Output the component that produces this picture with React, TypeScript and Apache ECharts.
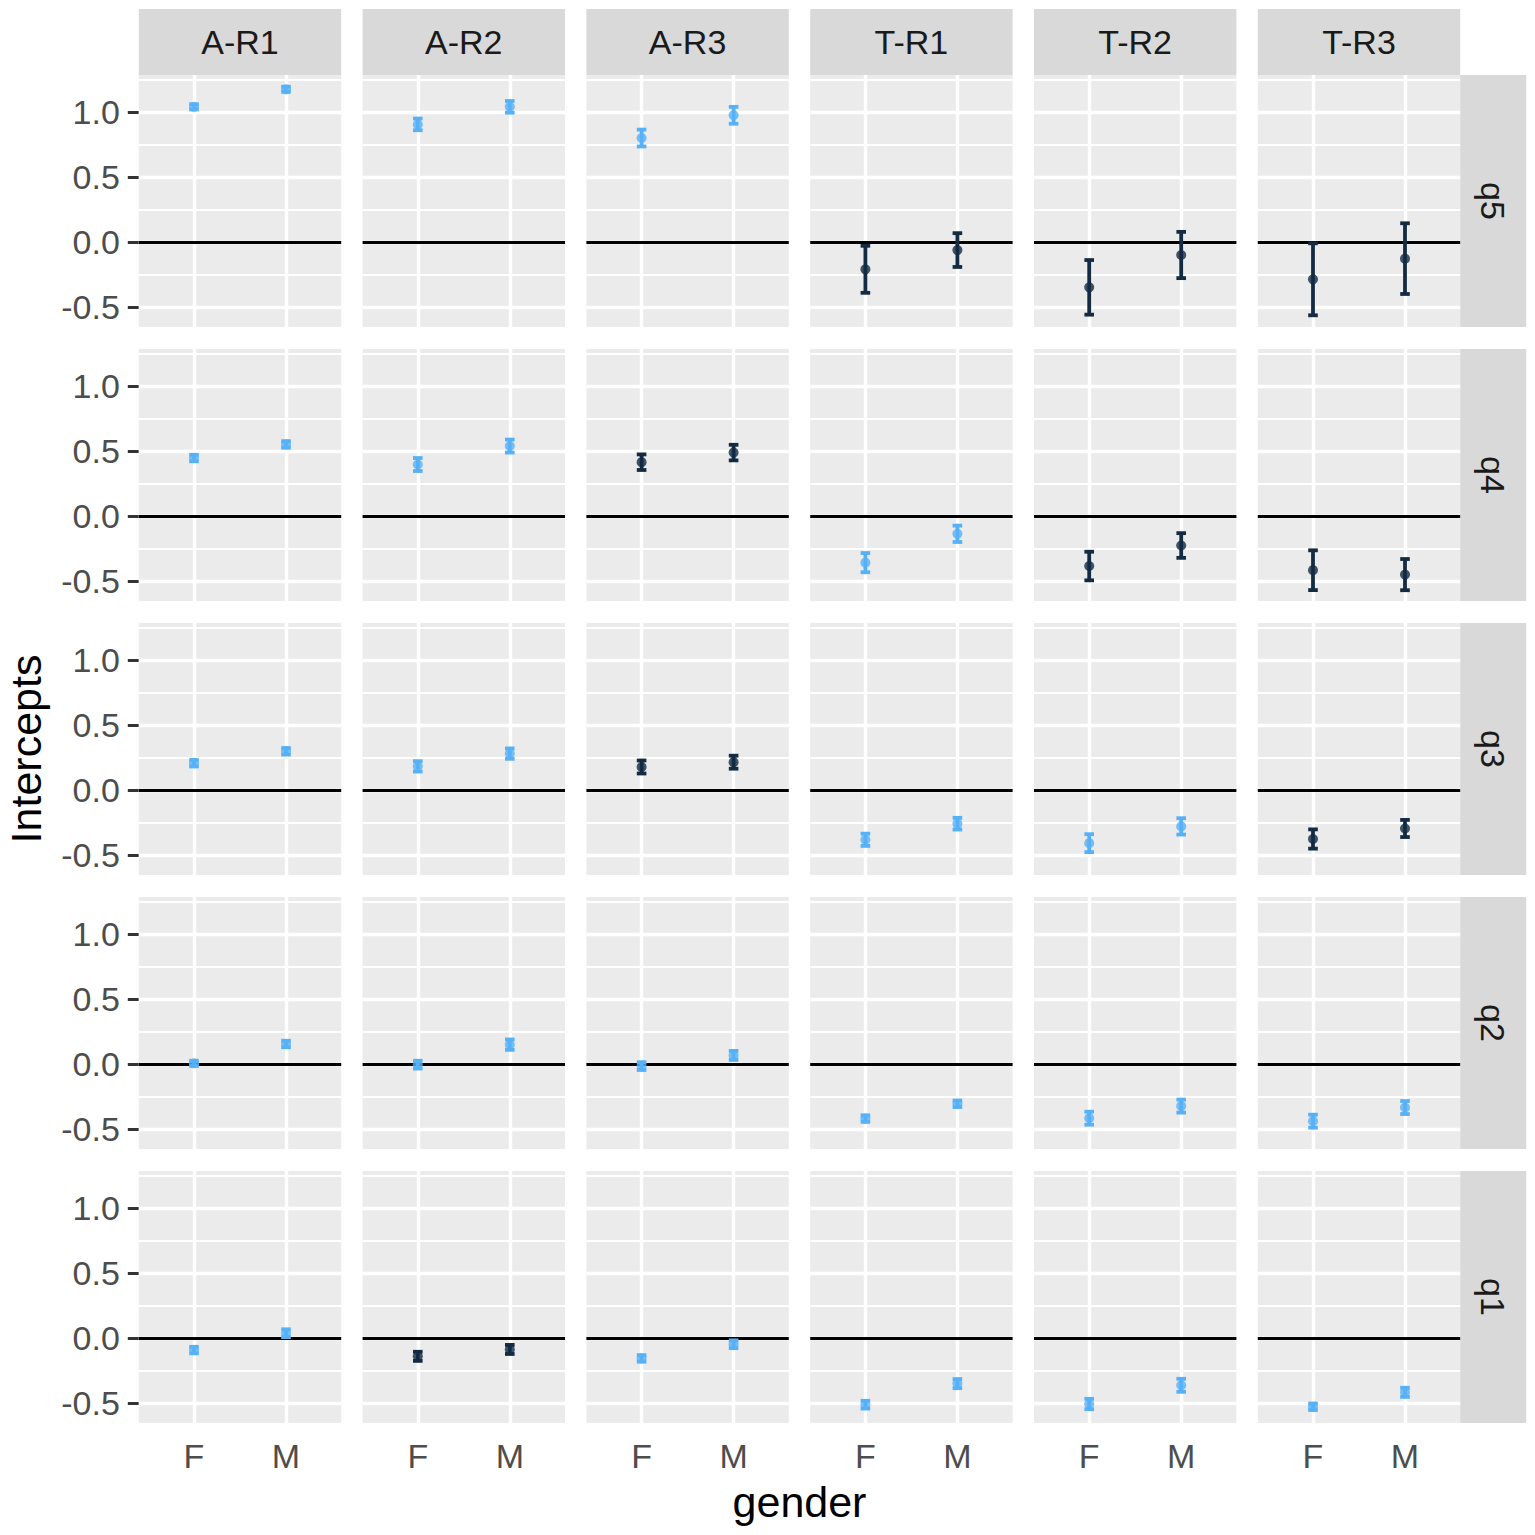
import React, { useEffect, useRef } from "react";
import * as echarts from "echarts";

// ---------- data ----------
const columns = ["A-R1", "A-R2", "A-R3", "T-R1", "T-R2", "T-R3"];
const rows = ["q5", "q4", "q3", "q2", "q1"];
const genders = ["F", "M"];
const yTickValues = [-0.5, 0, 0.5, 1.0];
const yMinorValues = [-0.25, 0.25, 0.75, 1.25];

// estimates per column: [F, M]
const q5Est = [[1.04, 1.175], [0.905, 1.04], [0.8, 0.975], [-0.21, -0.062], [-0.349, -0.1], [-0.287, -0.128]];
const q5Err = [[0.02, 0.02], [0.045, 0.045], [0.065, 0.065], [0.181, 0.13], [0.21, 0.178], [0.277, 0.272]];
const q5Dark = [0, 0, 0, 1, 1, 1];

const q4Est = [[0.446, 0.551], [0.396, 0.538], [0.414, 0.488], [-0.359, -0.137], [-0.385, -0.227], [-0.417, -0.451]];
const q4Err = [[0.025, 0.025], [0.05, 0.05], [0.06, 0.06], [0.074, 0.063], [0.11, 0.095], [0.153, 0.12]];
const q4Dark = [0, 0, 1, 0, 1, 1];

const q3Est = [[0.206, 0.298], [0.182, 0.28], [0.177, 0.214], [-0.383, -0.259], [-0.409, -0.28], [-0.377, -0.296]];
const q3Err = [[0.025, 0.025], [0.04, 0.04], [0.05, 0.05], [0.047, 0.045], [0.069, 0.063], [0.074, 0.066]];
const q3Dark = [0, 0, 1, 0, 0, 1];

const q2Est = [[0.005, 0.154], [-0.005, 0.149], [-0.016, 0.066], [-0.42, -0.306], [-0.417, -0.324], [-0.44, -0.335]];
const q2Err = [[0.02, 0.025], [0.03, 0.04], [0.03, 0.035], [0.025, 0.025], [0.05, 0.05], [0.05, 0.05]];
const q2Dark = [0, 0, 0, 0, 0, 0];

const q1Est = [[-0.093, 0.037], [-0.141, -0.088], [-0.157, -0.048], [-0.513, -0.351], [-0.508, -0.364], [-0.529, -0.418]];
const q1Err = [[0.025, 0.03], [0.035, 0.035], [0.025, 0.03], [0.03, 0.035], [0.04, 0.05], [0.025, 0.035]];
const q1Dark = [0, 1, 0, 0, 0, 0];

const rowEst = [q5Est, q4Est, q3Est, q2Est, q1Est];
const rowErr = [q5Err, q4Err, q3Err, q2Err, q1Err];
const rowDark = [q5Dark, q4Dark, q3Dark, q2Dark, q1Dark];

// ---------- style / layout ----------
const LIGHT = "#56B1F7";
const DARK = "#132B43";
const FONT = "'Liberation Sans', Arial, Helvetica, sans-serif";
const YMIN = -0.654;
const YMAX = 1.285;
const PANEL_LEFT0 = 138.8;
const COL_PITCH = 223.8;
const PANEL_W = 202.4;
const PANEL_TOP0 = 75;
const ROW_PITCH = 274;
const PANEL_H = 252;
const STRIP = 66;

// discrete x scale: 12 slots so F and M sit at ggplot's 0.6 expansion
const slotOf: Record<string, number> = { F: 3, M: 8 };
const xSlots = Array.from({ length: 12 }, (_, i) => {
  const g = genders.find((gg) => slotOf[gg] === i);
  return g ? g : "_" + i;
});
const isGenderSlot = (i: number) => genders.some((g) => slotOf[g] === i);

function buildOption() {
  const grid: any[] = [];
  const xAxis: any[] = [];
  const yAxis: any[] = [];
  const series: any[] = [];
  const graphic: any[] = [];

  rows.forEach((rowName, r) => {
    columns.forEach((colName, c) => {
      const k = r * columns.length + c;
      const left = PANEL_LEFT0 + c * COL_PITCH;
      const top = PANEL_TOP0 + r * ROW_PITCH;
      const isLeft = c === 0;
      const isBottom = r === rows.length - 1;
      const color = rowDark[r][c] ? DARK : LIGHT;

      grid.push({
        left,
        top,
        width: PANEL_W,
        height: PANEL_H,
        show: true,
        backgroundColor: "#EBEBEB",
        borderWidth: 0,
        containLabel: false,
      });

      xAxis.push({
        type: "category",
        gridIndex: k,
        data: xSlots,
        boundaryGap: false,
        axisLine: { show: false },
        splitLine: { show: false },
        axisTick: {
          show: isBottom,
          interval: (i: number) => isGenderSlot(i),
          length: 11,
          lineStyle: { color: "#333333", width: 3 },
        },
        axisLabel: {
          show: isBottom,
          interval: (i: number) => isGenderSlot(i),
          fontSize: 34,
          color: "#4D4D4D",
          fontFamily: FONT,
          margin: 16,
        },
      });

      yAxis.push({
        type: "value",
        gridIndex: k,
        min: YMIN,
        max: YMAX,
        axisLine: { show: false },
        splitLine: { show: false },
        axisTick: {
          show: isLeft,
          customValues: yTickValues,
          length: 11,
          lineStyle: { color: "#333333", width: 3 },
        },
        axisLabel: {
          show: isLeft,
          customValues: yTickValues,
          formatter: (v: number) => v.toFixed(1),
          fontSize: 34,
          color: "#4D4D4D",
          fontFamily: FONT,
          margin: 19,
        },
      });

      const gridLines: any[] = [];
      yMinorValues.forEach((v) => gridLines.push({ yAxis: v, lineStyle: { width: 1.9 } }));
      yTickValues.forEach((v) => gridLines.push({ yAxis: v, lineStyle: { width: 3.4 } }));
      genders.forEach((g) => gridLines.push({ xAxis: g, lineStyle: { width: 3.4 } }));

      // error bars
      series.push({
        type: "custom",
        xAxisIndex: k,
        yAxisIndex: k,
        z: 3,
        silent: true,
        encode: { x: 0, y: [1, 2] },
        data: genders.map((g, gi) => ({
          value: [g, rowEst[r][c][gi] - rowErr[r][c][gi], rowEst[r][c][gi] + rowErr[r][c][gi]],
          itemStyle: { color },
        })),
        renderItem: (params: any, api: any) => {
          const xi = api.value(0);
          const lo = api.coord([xi, api.value(1)]);
          const hi = api.coord([xi, api.value(2)]);
          const col = api.visual("color");
          const hw = 4.8;
          const st = () => ({ stroke: col, lineWidth: 3.8 });
          return {
            type: "group",
            children: [
              { type: "line", shape: { x1: lo[0], y1: lo[1], x2: hi[0], y2: hi[1] }, style: st() },
              { type: "line", shape: { x1: lo[0] - hw, y1: lo[1], x2: lo[0] + hw, y2: lo[1] }, style: st() },
              { type: "line", shape: { x1: hi[0] - hw, y1: hi[1], x2: hi[0] + hw, y2: hi[1] }, style: st() },
            ],
          };
        },
        markLine: {
          silent: true,
          z: 1,
          symbol: "none",
          label: { show: false },
          lineStyle: { color: "#FFFFFF", type: "solid" },
          emphasis: { disabled: true },
          data: gridLines,
        },
      });

      // points + zero line
      series.push({
        type: "scatter",
        xAxisIndex: k,
        yAxisIndex: k,
        z: 4,
        silent: true,
        symbol: "circle",
        symbolSize: 10,
        data: genders.map((g, gi) => ({ value: [g, rowEst[r][c][gi]], itemStyle: { color } })),
        markLine: {
          silent: true,
          z: 2,
          symbol: "none",
          label: { show: false },
          lineStyle: { color: "#000000", type: "solid", width: 3.2 },
          emphasis: { disabled: true },
          data: [{ yAxis: 0 }],
        },
      });
    });
  });

  // top strips
  columns.forEach((colName, c) => {
    const left = PANEL_LEFT0 + c * COL_PITCH;
    graphic.push({
      type: "rect",
      shape: { x: left, y: PANEL_TOP0 - STRIP, width: PANEL_W, height: STRIP },
      style: { fill: "#D9D9D9" },
      silent: true,
    });
    graphic.push({
      type: "text",
      x: left + PANEL_W / 2,
      y: PANEL_TOP0 - STRIP / 2,
      style: {
        text: colName,
        fontSize: 34,
        fontFamily: FONT,
        fill: "#1A1A1A",
        align: "center",
        verticalAlign: "middle",
      },
      silent: true,
    });
  });

  // right strips
  const rightX = PANEL_LEFT0 + (columns.length - 1) * COL_PITCH + PANEL_W;
  rows.forEach((rowName, r) => {
    const top = PANEL_TOP0 + r * ROW_PITCH;
    graphic.push({
      type: "rect",
      shape: { x: rightX, y: top, width: STRIP, height: PANEL_H },
      style: { fill: "#D9D9D9" },
      silent: true,
    });
    graphic.push({
      type: "text",
      x: rightX + STRIP / 2,
      y: top + PANEL_H / 2,
      rotation: -Math.PI / 2,
      style: {
        text: rowName,
        fontSize: 34,
        fontFamily: FONT,
        fill: "#1A1A1A",
        align: "center",
        verticalAlign: "middle",
      },
      silent: true,
    });
  });

  // axis titles
  const panelsRight = rightX;
  const panelsBottom = PANEL_TOP0 + (rows.length - 1) * ROW_PITCH + PANEL_H;
  graphic.push({
    type: "text",
    x: (PANEL_LEFT0 + panelsRight) / 2,
    y: 1502,
    style: {
      text: "gender",
      fontSize: 43,
      fontFamily: FONT,
      fill: "#000000",
      align: "center",
      verticalAlign: "middle",
    },
    silent: true,
  });
  graphic.push({
    type: "text",
    x: 26,
    y: (PANEL_TOP0 + panelsBottom) / 2,
    rotation: Math.PI / 2,
    style: {
      text: "Intercepts",
      fontSize: 43,
      fontFamily: FONT,
      fill: "#000000",
      align: "center",
      verticalAlign: "middle",
    },
    silent: true,
  });

  return {
    animation: false,
    backgroundColor: "#FFFFFF",
    textStyle: { fontFamily: FONT },
    grid,
    xAxis,
    yAxis,
    series,
    graphic,
  };
}

export default function App() {
  const ref = useRef<HTMLDivElement>(null);
  useEffect(() => {
    document.body.style.margin = "0";
    if (!ref.current) return;
    const chart = echarts.init(ref.current, undefined, { renderer: "svg" });
    chart.setOption(buildOption() as any);
    return () => {
      chart.dispose();
    };
  }, []);
  return <div ref={ref} style={{ width: 1535, height: 1535 }} />;
}
